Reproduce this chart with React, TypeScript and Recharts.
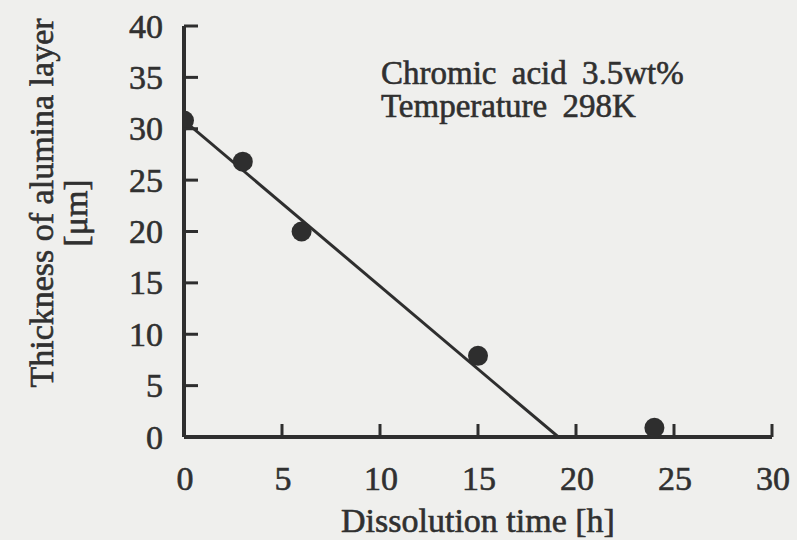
import React from "react";
import { ComposedChart, XAxis, YAxis, Scatter, Label } from "recharts";

const timeH = [0, 3, 6, 15, 24];
const thicknessUm = [30.8, 26.8, 20.0, 7.9, 0.9];
const fitTimeH = [0, 19.1];
const fitThicknessUm = [30.8, 0];
const xTicks = [0, 5, 10, 15, 20, 25, 30];
const yTicks = [0, 5, 10, 15, 20, 25, 30, 35, 40];
const annotationLines = ["Chromic acid 3.5wt%", "Temperature 298K"];
const xTitle = "Dissolution time [h]";
const yTitleLines = ["Thickness of alumina layer", "[\u03bcm]"];

const points = timeH.map((t, i) => ({ t, v: thicknessUm[i] }));
const fit = fitTimeH.map((t, i) => ({ t, v: fitThicknessUm[i] }));

const FONT = "'Liberation Serif', 'Times New Roman', Times, serif";
const INK = "#2e2e2e";
const TEXT = "#303030";
const BG = "#efefed";
const FS = 34;
const TS = 0.6;

const BottomTick = (p: any) => (
  <g>
    <line x1={p.x} y1={p.y} x2={p.x} y2={p.y - 13} stroke={INK} strokeWidth={3} />
    <text x={p.x + 1} y={p.y + 53} textAnchor="middle" fontFamily={FONT} fontSize={FS} fill={TEXT} stroke={TEXT} strokeWidth={TS}>
      {p.payload.value}
    </text>
  </g>
);

const LeftTick = (p: any) => (
  <g>
    <line x1={p.x} y1={p.y} x2={p.x + 14} y2={p.y} stroke={INK} strokeWidth={3} />
    <text x={p.x - 21} y={p.y} dy="0.34em" textAnchor="end" fontFamily={FONT} fontSize={FS} fill={TEXT} stroke={TEXT} strokeWidth={TS}>
      {p.payload.value}
    </text>
  </g>
);

const TopTick = (p: any) => (
  <line x1={p.x} y1={p.y} x2={p.x} y2={p.y + 13} stroke={INK} strokeWidth={3} />
);

const RightTick = (p: any) => (
  <line x1={p.x} y1={p.y} x2={p.x - 14} y2={p.y} stroke={INK} strokeWidth={3} />
);

const Dot = (p: any) => <circle cx={p.cx} cy={p.cy} r={10} fill={INK} />;
const NoDot = () => <g />;

const YTitle = () => (
  <g fontFamily={FONT} fontSize={FS} fill={TEXT} stroke={TEXT} strokeWidth={TS}>
    <text transform="translate(53,203) rotate(-90)" textAnchor="middle">
      {yTitleLines[0]}
    </text>
    <text transform="translate(87,213) rotate(-90)" textAnchor="middle">
      {yTitleLines[1]}
    </text>
  </g>
);

const XTitle = (p: any) => {
  const vb = p.viewBox || { x: 184, width: 588, y: 437, height: 103 };
  return (
    <text x={vb.x + vb.width / 2} y={532} textAnchor="middle" fontFamily={FONT} fontSize={FS} fill={TEXT} stroke={TEXT} strokeWidth={TS}>
      {xTitle}
    </text>
  );
};

const Annotation = () => (
  <g fontFamily={FONT} fontSize={33} fill={TEXT} stroke={TEXT} strokeWidth={TS} style={{ wordSpacing: 7 }}>
    <text x={381} y={84}>{annotationLines[0]}</text>
    <text x={381} y={117}>{annotationLines[1]}</text>
  </g>
);

export default function App() {
  return (
    <div style={{ position: "fixed", left: 0, top: 0, width: 797, height: 540, background: BG }}>
      <ComposedChart width={797} height={540} margin={{ top: 26, right: 25, bottom: 0, left: 0 }}>
        <XAxis
          xAxisId="b"
          type="number"
          dataKey="t"
          domain={[0, 30]}
          ticks={xTicks}
          interval={0}
          height={103}
          tickSize={0}
          tickMargin={0}
          tickLine={false}
          axisLine={{ stroke: INK, strokeWidth: 4 }}
          tick={BottomTick}
          allowDataOverflow
        >
          <Label content={XTitle} />
        </XAxis>
        <XAxis
          xAxisId="t"
          orientation="top"
          type="number"
          dataKey="t"
          domain={[0, 30]}
          ticks={xTicks}
          interval={0}
          height={0}
          tickSize={0}
          tickMargin={0}
          tickLine={false}
          axisLine={{ stroke: INK, strokeWidth: 4 }}
          tick={TopTick}
        />
        <YAxis
          yAxisId="l"
          type="number"
          dataKey="v"
          domain={[0, 40]}
          ticks={yTicks}
          interval={0}
          width={184}
          tickSize={0}
          tickMargin={0}
          tickLine={false}
          axisLine={{ stroke: INK, strokeWidth: 4 }}
          tick={LeftTick}
          allowDataOverflow
        >
          <Label content={YTitle} />
        </YAxis>
        <YAxis
          yAxisId="r"
          orientation="right"
          type="number"
          dataKey="v"
          domain={[0, 40]}
          ticks={yTicks}
          interval={0}
          width={0}
          tickSize={0}
          tickMargin={0}
          tickLine={false}
          axisLine={{ stroke: INK, strokeWidth: 4 }}
          tick={RightTick}
        />
        <Scatter
          xAxisId="b"
          yAxisId="l"
          data={fit}
          dataKey="v"
          line={{ stroke: INK, strokeWidth: 3 }}
          shape={NoDot}
          isAnimationActive={false}
        />
        <Scatter
          xAxisId="b"
          yAxisId="l"
          data={points}
          dataKey="v"
          shape={Dot}
          isAnimationActive={false}
        />
      </ComposedChart>
      <svg width={797} height={540} style={{ position: "absolute", left: 0, top: 0, pointerEvents: "none" }}>
        <Annotation />
      </svg>
    </div>
  );
}
